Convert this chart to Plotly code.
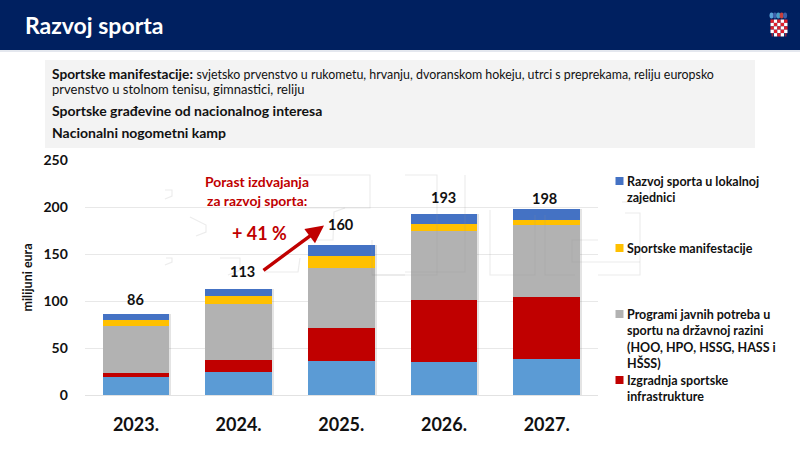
import plotly.graph_objects as go

years = ["2023.", "2024.", "2025.", "2026.", "2027."]
lokalna_baza = [19.5, 24.8, 36.5, 35.5, 38.3]
infrastruktura = [4.3, 12.4, 35.1, 65.2, 66.3]
programi = [50.0, 59.8, 63.9, 73.3, 75.9]
manifestacije = [6.0, 8.3, 12.5, 8.0, 5.5]
lokalna = [6.2, 7.7, 12.0, 11.0, 12.0]
totals = [86, 113, 160, 193, 198]
label_shift = [4, 7, 10, 6, 0]
y_ticks = [0, 50, 100, 150, 200, 250]

FONT = "Lato"
DARK = "#111111"
RED = "#c00000"
BAR_W = 0.65


def px(x):
    return x / 800


def py(y):
    return 1 - y / 450


fig = go.Figure()

# soft shadow behind the stacks
fig.add_bar(
    x=years, y=totals, yaxis="y", xaxis="x", width=BAR_W, offset=-BAR_W / 2 + 0.02,
    marker=dict(color="rgba(120,120,120,0.2)", line_width=0),
    showlegend=False, hoverinfo="skip",
)

series = [
    ("Osnova", lokalna_baza, "#5b9bd5"),
    ("Izgradnja sportske infrastrukture", infrastruktura, "#c00000"),
    ("Programi javnih potreba", programi, "#b2b2b2"),
    ("Sportske manifestacije", manifestacije, "#ffc000"),
    ("Razvoj sporta u lokalnoj zajednici", lokalna, "#4472c4"),
]
for name, vals, col in series:
    fig.add_bar(x=years, y=vals, name=name, yaxis="y2", width=BAR_W,
                marker=dict(color=col, line_width=0), showlegend=False)

shapes = [
    dict(type="rect", xref="paper", yref="paper", x0=0, x1=1, y0=py(50), y1=1,
         fillcolor="#002060", line_width=0, layer="below"),
    dict(type="line", xref="paper", yref="paper", x0=0, x1=1, y0=py(51), y1=py(51),
         line=dict(color="#c9d0de", width=1), layer="below"),
    dict(type="rect", xref="paper", yref="paper", x0=px(45), x1=px(755), y0=py(148), y1=py(60),
         fillcolor="#f3f3f3", line_width=0, layer="below"),
]

# faint watermark outlines
wm = [
    "M300,208 L370,208 L370,175 L300,175",
    "M345,208 L334,212 L333,240 L300,240",
    "M372,240 L372,275 L405,275",
    "M372,275 L372,275 L402,275 L437,275 L437,175 L405,175",
    "M465,175 L465,272 L405,272",
    "M490,210 L490,275 L535,275 L535,215",
    "M545,215 L545,275 L575,275",
    "M598,240 L572,240 L572,262 L598,262 L640,262",
    "M598,275 L640,275 L640,213 L625,213",
    "M622,202 L650,202 L650,178",
    "M165,190 L172,190 L172,196 L165,199",
    "M190,217 L206,225 L206,232 L196,236",
    "M166,258 L172,258 L172,262 L165,265",
    "M220,258 L240,258 L240,270 L228,275",
    "M265,272 L298,272 L300,258",
]
for d in wm:
    parts = []
    for tok in d.split():
        c = tok[0]
        a, b = tok[1:].split(",")
        parts.append(f"{c}{px(float(a)):.5f},{py(float(b)):.5f}")
    shapes.append(dict(type="path", xref="paper", yref="paper", path=" ".join(parts),
                       line=dict(color="rgba(150,150,150,0.18)", width=1.2), layer="above"))

# legend squares
legend_marks = [(181, "#4472c4"), (248, "#ffc000"), (314, "#b2b2b2"), (380, "#c00000")]
for yc, col in legend_marks:
    shapes.append(dict(type="rect", xref="paper", yref="paper", x0=px(615.5), x1=px(623.5),
                       y0=py(yc + 4), y1=py(yc - 4), fillcolor=col, line_width=0))

# coat of arms
cx0, cy0, cell = 770.5, 19.5, 3.4
for r in range(5):
    for c in range(5):
        col = "#e0202c" if (r + c) % 2 == 0 else "#ffffff"
        x0 = cx0 + c * cell
        y0 = cy0 + r * cell
        inset = 1.2 if r == 4 and c in (0, 4) else 0
        shapes.append(dict(type="rect", xref="paper", yref="paper", x0=px(x0 + inset),
                           x1=px(x0 + cell - inset), y0=py(y0 + cell), y1=py(y0),
                           fillcolor=col, line_width=0))
for i, col in enumerate(["#5aa3d8", "#3c5fa8", "#48a0c8", "#c8403c", "#3c5fa8"]):
    x = 771.5 + i * 3.4
    shapes.append(dict(type="circle", xref="paper", yref="paper", x0=px(x - 2), x1=px(x + 2),
                       y0=py(18.5), y1=py(12.5), fillcolor=col, line_width=0))


def note(x, y, text, size, color=DARK, xanchor="left", bold=True, font=FONT):
    t = f"<b>{text}</b>" if bold else text
    return dict(xref="paper", yref="paper", x=px(x), y=py(y), text=t, showarrow=False,
                xanchor=xanchor, yanchor="middle", align="left",
                font=dict(family=font, size=size, color=color), borderpad=0)


annotations = [
    note(24, 25, "Razvoj sporta", 23, "#ffffff"),
    dict(xref="paper", yref="paper", x=px(51), y=py(73), showarrow=False, xanchor="left",
         yanchor="middle", text="<b>Sportske manifestacije:</b> "
         "<span style='font-size:12.4px'>svjetsko prvenstvo u rukometu, hrvanju, dvoranskom hokeju, "
         "utrci s preprekama, reliju europsko</span>",
         font=dict(family=FONT, size=13.7, color=DARK), borderpad=0),
    note(51, 89, "prvenstvo u stolnom tenisu, gimnastici, reliju", 13, bold=False),
    note(51, 110, "Sportske građevine od nacionalnog interesa", 14),
    note(51, 132, "Nacionalni nogometni kamp", 14),
    note(257, 181, "Porast izdvajanja", 13.9, RED, "center"),
    note(257, 200, "za razvoj sporta:", 13.9, RED, "center"),
    note(259, 233, "+ 41 %", 18, RED, "center"),
    note(626, 181, "Razvoj sporta u lokalnoj", 12.5),
    note(626, 197, "zajednici", 12.5),
    note(626, 248, "Sportske manifestacije", 12.5),
    note(626, 314, "Programi javnih potreba u", 12.5),
    note(626, 330, "sportu na državnoj razini", 12.5),
    note(626, 347, "(HOO, HPO, HSSG, HASS i", 12.5),
    note(626, 363, "HŠSS)", 12.5),
    note(626, 380, "Izgradnja sportske", 12.5),
    note(626, 396, "infrastrukture", 12.5),
    # growth arrow
    dict(xref="paper", yref="paper", x=px(324), y=py(225.5), ax=-62, ay=46, axref="pixel",
         ayref="pixel", text="", showarrow=True, arrowhead=2, arrowsize=1.05, arrowwidth=3.4,
         arrowcolor=RED),
]
# total labels (category axes take the serial number of the category)
total_dx = [0, 4, 0, 0, -2]
for i, (total, shift, dx) in enumerate(zip(totals, label_shift, total_dx)):
    annotations.append(dict(x=i, y=total, xref="x", yref="y2", text=f"<b>{total}</b>",
                            showarrow=False, yanchor="bottom", yshift=shift, xshift=dx,
                            font=dict(family=FONT, size=14.5, color=DARK)))

fig.update_layout(
    width=800, height=450, margin=dict(l=0, r=0, t=0, b=0),
    paper_bgcolor="#ffffff", plot_bgcolor="rgba(0,0,0,0)",
    barmode="stack", bargap=0.35, showlegend=False,
    font=dict(family=FONT, color=DARK),
    shapes=shapes, annotations=annotations,
    xaxis=dict(domain=[px(84.6), px(598)], type="category", categoryorder="array",
               categoryarray=years, range=[-0.5, 4.5], showgrid=False, showline=True,
               automargin=False,
               linecolor="#e2e2e2", linewidth=1, ticks="outside", ticklen=13,
               tickcolor="rgba(0,0,0,0)", tickfont=dict(family=FONT, size=18, color=DARK, weight="bold")),
    yaxis=dict(domain=[1 - 395 / 450, 1 - 160 / 450], range=[0, 250], tickvals=y_ticks,
               automargin=False,
               gridcolor="#e8e8e8", gridwidth=1, zeroline=False, showline=False,
               ticks="outside", ticklen=13, tickcolor="rgba(0,0,0,0)",
               tickfont=dict(family=FONT, size=14, color=DARK, weight="bold"),
               title=dict(text="<b>milijuni eura</b>", font=dict(family=FONT, size=12.5, color=DARK), standoff=8)),
    yaxis2=dict(domain=[1 - 395 / 450, 1 - 160 / 450], range=[0, 250], overlaying="y",
                automargin=False,
                showgrid=False, zeroline=False, showticklabels=False, side="left"),
)

fig.write_html("out.html", config={"displayModeBar": False},
               post_script="document.body.style.margin='0';")
